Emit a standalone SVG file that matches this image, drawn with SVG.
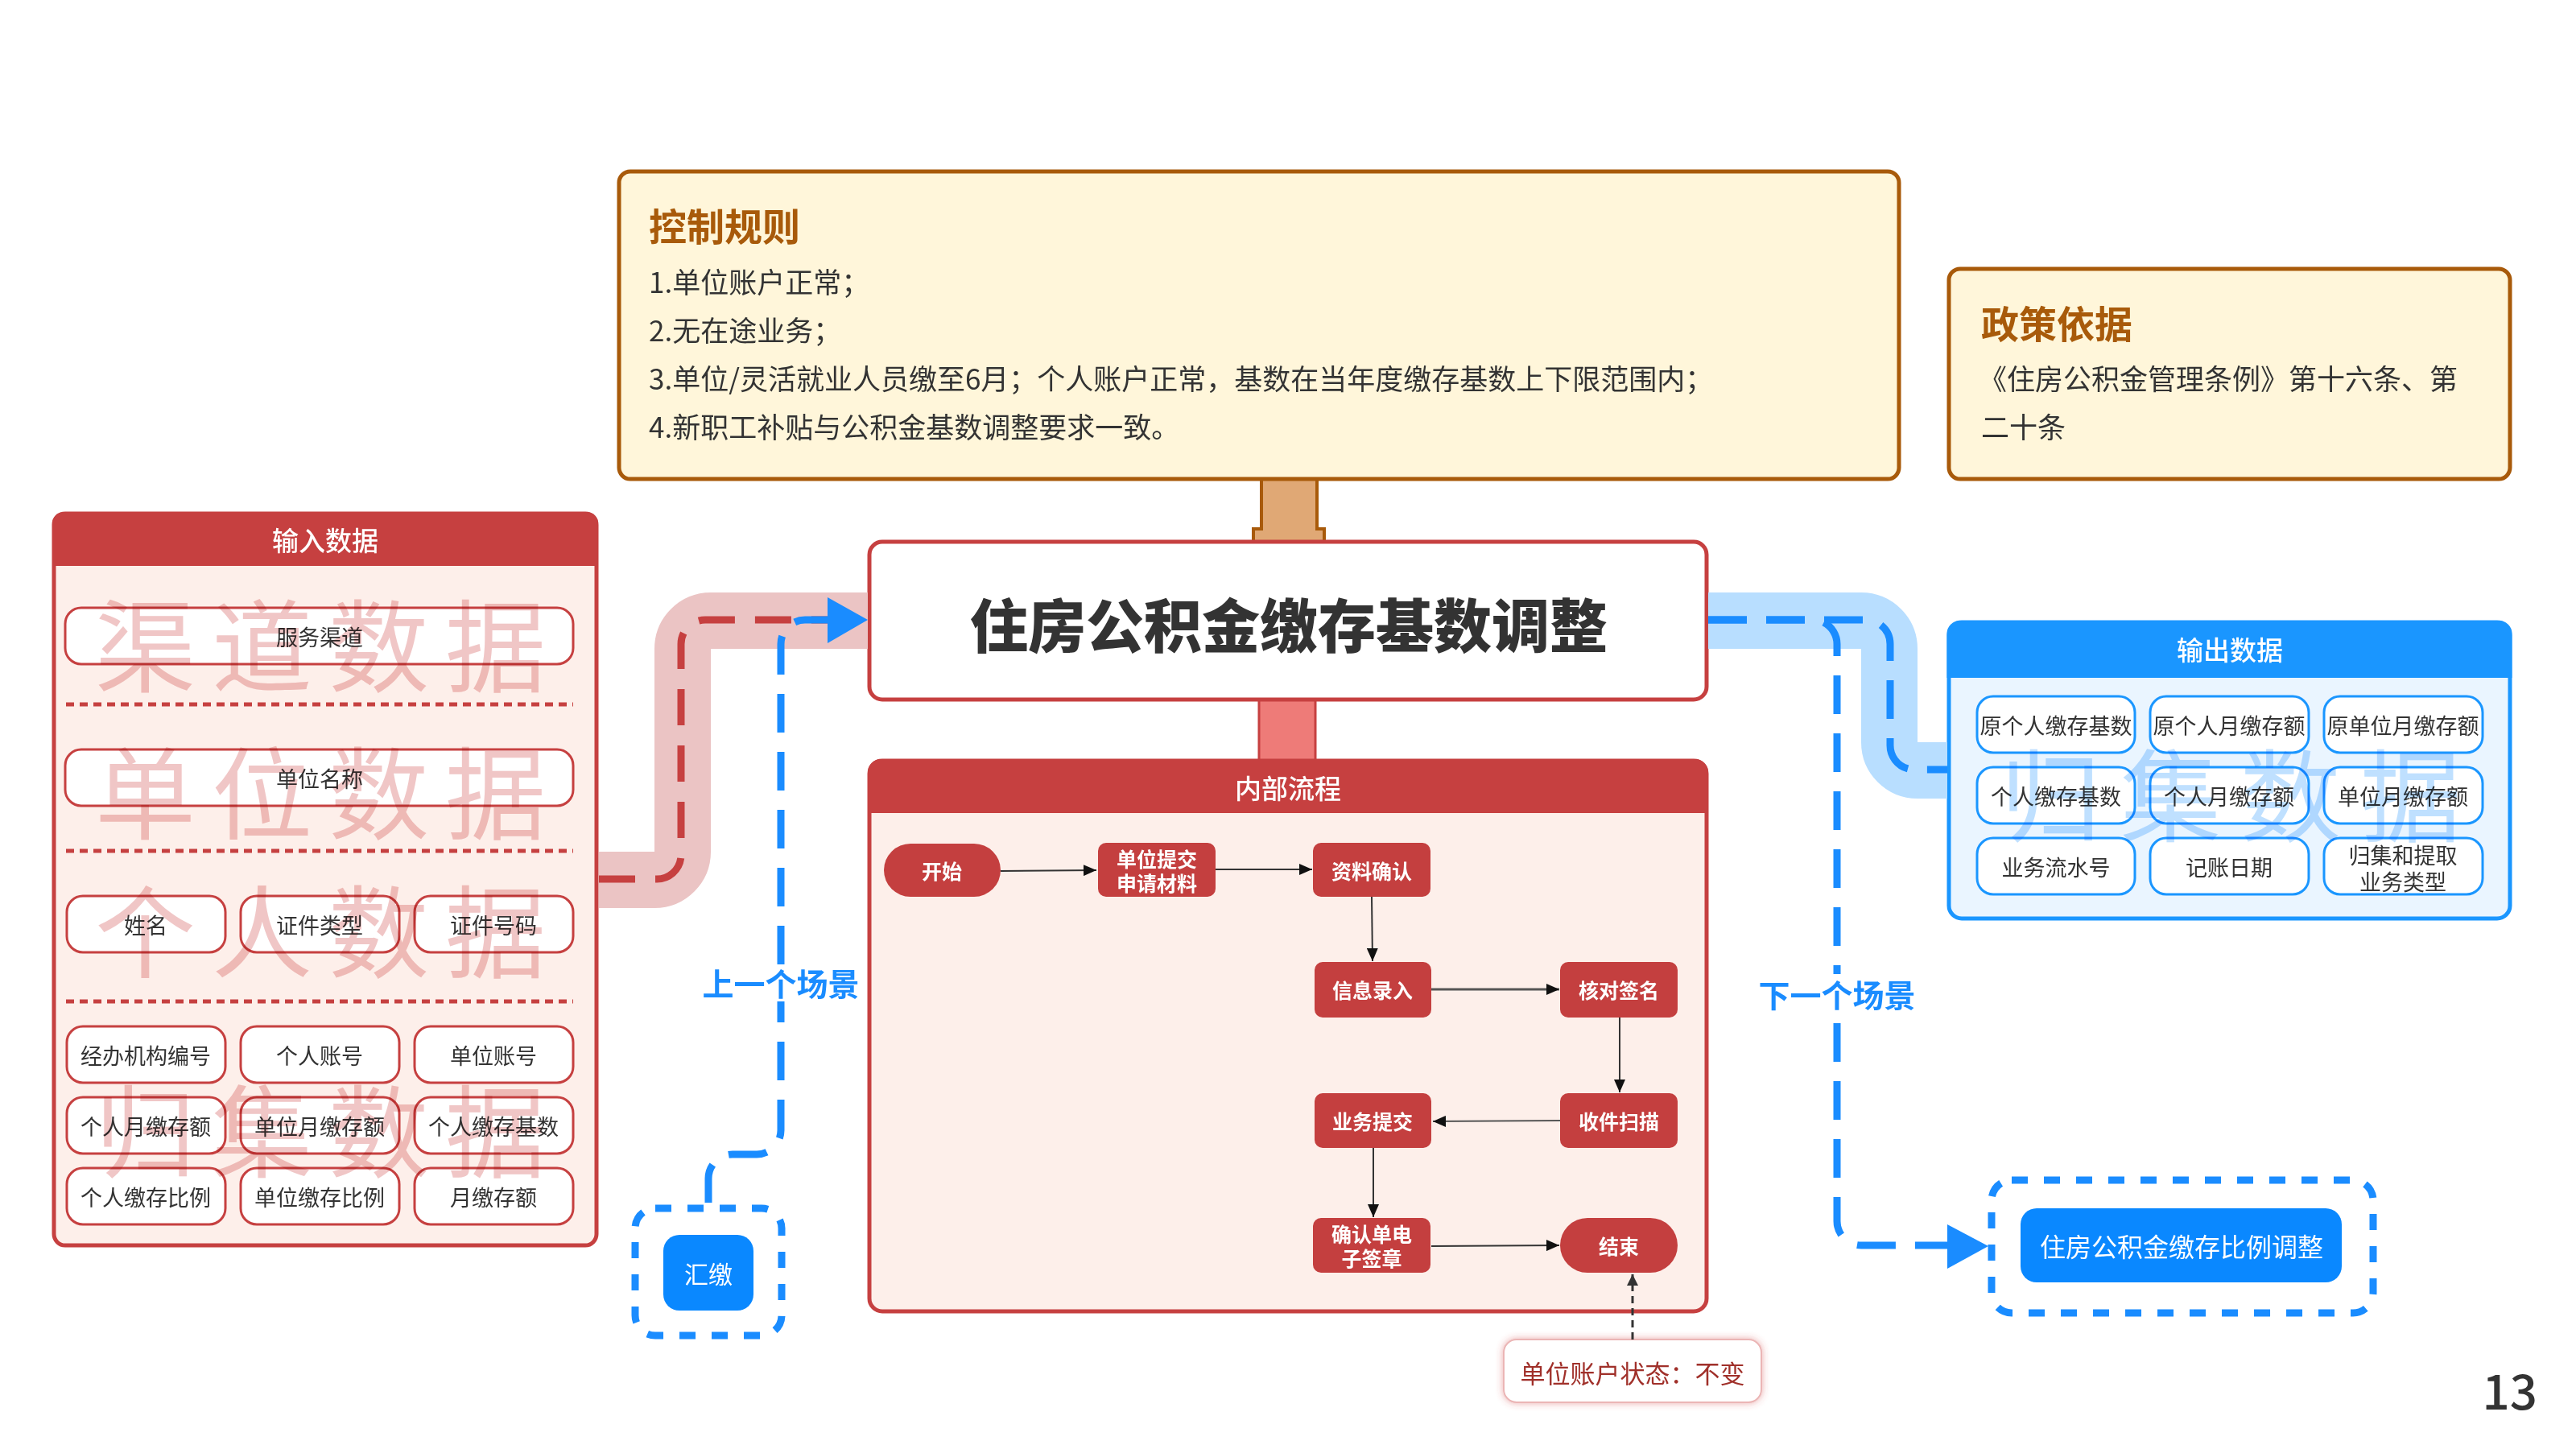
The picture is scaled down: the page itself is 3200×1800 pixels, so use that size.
<svg xmlns="http://www.w3.org/2000/svg" width="3200" height="1800" viewBox="0 0 3200 1800">
<defs>
<style>
text{font-family:"Noto Sans CJK SC","Noto Sans",sans-serif;}
.c{text-anchor:middle;dominant-baseline:central;}
.cell rect{fill:#fff;stroke:#C64040;stroke-width:3;}
.cell text{font-size:27px;fill:#333;text-anchor:middle;dominant-baseline:central;}
.ocell rect{fill:#fff;stroke:#1A96FF;stroke-width:3;}
.ocell text{font-size:27px;fill:#333;text-anchor:middle;dominant-baseline:central;}
.fn rect{fill:#C43F3F;}
.fn text{font-size:25px;font-weight:700;fill:#fff;text-anchor:middle;dominant-baseline:central;}
.sep{stroke:#C64040;stroke-width:5;stroke-dasharray:10 7;fill:none;}
.wmr{font-size:125px;fill:#F0C6C6;mix-blend-mode:multiply;letter-spacing:20px;dominant-baseline:central;}
.wmb{font-size:125px;fill:#BFE0FF;mix-blend-mode:multiply;letter-spacing:24px;dominant-baseline:central;}
.rule{font-size:35px;fill:#333;dominant-baseline:central;}
.ttl{font-size:47px;font-weight:700;fill:#A85A0A;dominant-baseline:central;}
.hdr{font-size:33px;font-weight:500;fill:#fff;text-anchor:middle;dominant-baseline:central;}
.flow{stroke:#333;stroke-width:2;fill:none;marker-end:url(#arr);}
.bdash{stroke:#1A8CFF;stroke-width:9;fill:none;stroke-dasharray:48 24;}
.scene{font-size:39px;font-weight:700;fill:#1A8CFF;text-anchor:middle;dominant-baseline:central;}
</style>
<marker id="arr" markerUnits="userSpaceOnUse" markerWidth="16" markerHeight="14" refX="16" refY="7" orient="auto">
<path d="M0,0 L16,7 L0,14 z" fill="#111"/>
</marker>
<marker id="arrd" markerUnits="userSpaceOnUse" markerWidth="14" markerHeight="14" refX="14" refY="7" orient="auto">
<path d="M0,0 L14,7 L0,14 z" fill="#333"/>
</marker>
<filter id="glow" x="-20%" y="-40%" width="140%" height="180%">
<feDropShadow dx="0" dy="0" stdDeviation="5" flood-color="#D04040" flood-opacity="0.45"/>
</filter>
</defs>
<rect width="3200" height="1800" fill="#fff"/>

<!-- stubs -->
<g id="stub-rules">
<path d="M1567,595 H1636 V657 H1645 V673 H1557 V657 H1567 Z" fill="#E0A875" stroke="#A85A0A" stroke-width="4"/>
</g>
<g id="stub-flow">
<rect x="1564" y="869" width="70" height="76" fill="#EE7B78" stroke="#C64040" stroke-width="3"/>
</g>

<!-- control rules -->
<g id="rules">
<rect x="769" y="213" width="1590" height="382" rx="14" fill="#FFF6DA" stroke="#A85A0A" stroke-width="5"/>
<text x="806" y="278" class="ttl">控制规则</text>
<text x="806" y="348" class="rule">1.单位账户正常；</text>
<text x="806" y="408" class="rule">2.无在途业务；</text>
<text x="806" y="468" class="rule">3.单位/灵活就业人员缴至6月；个人账户正常，基数在当年度缴存基数上下限范围内；</text>
<text x="806" y="528" class="rule">4.新职工补贴与公积金基数调整要求一致。</text>
</g>

<!-- policy -->
<g id="policy">
<rect x="2421" y="334" width="697" height="261" rx="14" fill="#FFF6DA" stroke="#A85A0A" stroke-width="5"/>
<text x="2461" y="399" class="ttl">政策依据</text>
<text x="2458" y="468" class="rule">《住房公积金管理条例》第十六条、第</text>
<text x="2461" y="528" class="rule">二十条</text>
</g>

<!-- main -->
<g id="main">
<rect x="1080" y="673" width="1040" height="196" rx="16" fill="#fff" stroke="#C64040" stroke-width="5"/>
<text x="1601" y="772" class="c" style="font-size:72px;font-weight:900;fill:#333">住房公积金缴存基数调整</text>
</g>

<!-- input panel -->
<g id="input">
<rect x="67" y="638" width="674" height="909" rx="14" fill="#FDEFEA" stroke="#C64040" stroke-width="5"/>
<path d="M65,703 V650 A14,14 0 0 1 79,636 H729 A14,14 0 0 1 743,650 V703 Z" fill="#C64040"/>
<text x="404" y="670" class="hdr">输入数据</text>
<line x1="82" y1="875" x2="712" y2="875" class="sep"/>
<line x1="82" y1="1057" x2="712" y2="1057" class="sep"/>
<line x1="82" y1="1244" x2="712" y2="1244" class="sep"/>
<g class="cell" id="in-channel"><rect x="81" y="755" width="631" height="70" rx="20"/><text x="397" y="790">服务渠道</text></g>
<g class="cell" id="in-unitname"><rect x="81" y="931" width="631" height="70" rx="20"/><text x="397" y="966">单位名称</text></g>
<g class="cell" id="in-name"><rect x="83" y="1113" width="197" height="70" rx="20"/><text x="181" y="1148">姓名</text></g>
<g class="cell" id="in-idtype"><rect x="299" y="1113" width="197" height="70" rx="20"/><text x="397" y="1148">证件类型</text></g>
<g class="cell" id="in-idno"><rect x="515" y="1113" width="197" height="70" rx="20"/><text x="613" y="1148">证件号码</text></g>
<g class="cell" id="in-org"><rect x="83" y="1275" width="197" height="70" rx="20"/><text x="181" y="1310">经办机构编号</text></g>
<g class="cell" id="in-pacct"><rect x="299" y="1275" width="197" height="70" rx="20"/><text x="397" y="1310">个人账号</text></g>
<g class="cell" id="in-uacct"><rect x="515" y="1275" width="197" height="70" rx="20"/><text x="613" y="1310">单位账号</text></g>
<g class="cell" id="in-pmon"><rect x="83" y="1363" width="197" height="70" rx="20"/><text x="181" y="1398">个人月缴存额</text></g>
<g class="cell" id="in-umon"><rect x="299" y="1363" width="197" height="70" rx="20"/><text x="397" y="1398">单位月缴存额</text></g>
<g class="cell" id="in-pbase"><rect x="515" y="1363" width="197" height="70" rx="20"/><text x="613" y="1398">个人缴存基数</text></g>
<g class="cell" id="in-pratio"><rect x="83" y="1451" width="197" height="70" rx="20"/><text x="181" y="1486">个人缴存比例</text></g>
<g class="cell" id="in-uratio"><rect x="299" y="1451" width="197" height="70" rx="20"/><text x="397" y="1486">单位缴存比例</text></g>
<g class="cell" id="in-mon"><rect x="515" y="1451" width="197" height="70" rx="20"/><text x="613" y="1486">月缴存额</text></g>
<text x="118" y="795" class="wmr">渠道数据</text>
<text x="118" y="978" class="wmr">单位数据</text>
<text x="118" y="1150" class="wmr">个人数据</text>
<text x="118" y="1398" class="wmr">归集数据</text>
</g>

<!-- internal flow panel -->
<g id="flow-panel">
<rect x="1080" y="945" width="1040" height="684" rx="16" fill="#FDEFEA" stroke="#C64040" stroke-width="5"/>
<path d="M1078,1010 V959 A16,16 0 0 1 1094,943 H2106 A16,16 0 0 1 2122,959 V1010 Z" fill="#C64040"/>
<text x="1600" y="978" class="hdr">内部流程</text>
</g>
<g class="fn" id="n-start"><rect x="1098" y="1048" width="145" height="66" rx="33"/><text x="1170" y="1081">开始</text></g>
<g class="fn" id="n-submit"><rect x="1364" y="1047" width="146" height="67" rx="10"/><text x="1437" y="1066">单位提交</text><text x="1437" y="1096">申请材料</text></g>
<g class="fn" id="n-confirm"><rect x="1631" y="1047" width="146" height="67" rx="10"/><text x="1704" y="1081">资料确认</text></g>
<g class="fn" id="n-entry"><rect x="1633" y="1195" width="145" height="69" rx="10"/><text x="1705" y="1229">信息录入</text></g>
<g class="fn" id="n-check"><rect x="1938" y="1195" width="146" height="69" rx="10"/><text x="2011" y="1229">核对签名</text></g>
<g class="fn" id="n-scan"><rect x="1938" y="1358" width="146" height="68" rx="10"/><text x="2011" y="1392">收件扫描</text></g>
<g class="fn" id="n-biz"><rect x="1633" y="1358" width="145" height="68" rx="10"/><text x="1705" y="1392">业务提交</text></g>
<g class="fn" id="n-sign"><rect x="1631" y="1513" width="146" height="68" rx="10"/><text x="1704" y="1532">确认单电</text><text x="1704" y="1562">子签章</text></g>
<g class="fn" id="n-end"><rect x="1938" y="1513" width="146" height="68" rx="34"/><text x="2011" y="1547">结束</text></g>

<!-- note -->
<g id="note">
<rect x="1868" y="1664" width="320" height="78" rx="16" fill="#fff" stroke="#EBB5B5" stroke-width="2" filter="url(#glow)"/>
<text x="2028" y="1704" class="c" style="font-size:31px;fill:#A0302A">单位账户状态：不变</text>
</g>

<!-- output panel -->
<g id="output">
<rect x="2421" y="773" width="697" height="368" rx="16" fill="#EAF5FF" stroke="#1A96FF" stroke-width="5"/>
<path d="M2418.5,842 V787 A16,16 0 0 1 2434.5,771 H3104.5 A16,16 0 0 1 3120.5,787 V842 Z" fill="#1A96FF"/>
<text x="2770" y="806" class="hdr">输出数据</text>
<g class="ocell" id="out-1"><rect x="2456" y="865" width="196" height="70" rx="20"/><text x="2554" y="900">原个人缴存基数</text></g>
<g class="ocell" id="out-2"><rect x="2671" y="865" width="197" height="70" rx="20"/><text x="2769" y="900">原个人月缴存额</text></g>
<g class="ocell" id="out-3"><rect x="2887" y="865" width="197" height="70" rx="20"/><text x="2985" y="900">原单位月缴存额</text></g>
<g class="ocell" id="out-4"><rect x="2456" y="953" width="196" height="70" rx="20"/><text x="2554" y="988">个人缴存基数</text></g>
<g class="ocell" id="out-5"><rect x="2671" y="953" width="197" height="70" rx="20"/><text x="2769" y="988">个人月缴存额</text></g>
<g class="ocell" id="out-6"><rect x="2887" y="953" width="197" height="70" rx="20"/><text x="2985" y="988">单位月缴存额</text></g>
<g class="ocell" id="out-7"><rect x="2456" y="1041" width="196" height="70" rx="20"/><text x="2554" y="1076">业务流水号</text></g>
<g class="ocell" id="out-8"><rect x="2671" y="1041" width="197" height="70" rx="20"/><text x="2769" y="1076">记账日期</text></g>
<g class="ocell" id="out-9"><rect x="2887" y="1041" width="197" height="70" rx="20"/><text x="2985" y="1061">归集和提取</text><text x="2985" y="1094">业务类型</text></g>
<text x="2485" y="981" class="wmb">归集数据</text>
</g>

<!-- connectors -->
<g id="connectors">
<path d="M744,1093 H813 A35,35 0 0 0 848,1058 V806 A35,35 0 0 1 883,771 H1078" fill="none" stroke="#EBC4C4" stroke-width="70"/>
<path d="M744,1092 H816 A30,30 0 0 0 846,1062 V800 A30,30 0 0 1 876,770 H1076" fill="none" stroke="#C64040" stroke-width="9" stroke-dasharray="45 25"/>
<path d="M2122,771 H2312 A35,35 0 0 1 2347,806 V922 A35,35 0 0 0 2382,957 H2419" fill="none" stroke="#B8DEFF" stroke-width="70"/>
<path d="M2122,770 H2318 A30,30 0 0 1 2348,800 V926 A30,30 0 0 0 2378,956 H2419" class="bdash"/>
<path d="M2122,770 H2252 A30,30 0 0 1 2282,800 V1517 A30,30 0 0 0 2312,1547 H2422" class="bdash"/>
<polygon points="2419,1521 2470,1548 2419,1576" fill="#1A8CFF"/>
<path d="M880,1494 V1464 A30,30 0 0 1 910,1434 H940 A30,30 0 0 0 970,1404 V800 A30,30 0 0 1 1000,770 H1032" class="bdash"/>
<polygon points="1028,742 1078,770 1028,799" fill="#1A8CFF"/>
<line x1="1243" y1="1082" x2="1362" y2="1081" class="flow"/>
<line x1="1510" y1="1080" x2="1630" y2="1080" class="flow"/>
<line x1="1704" y1="1114" x2="1705" y2="1194" class="flow"/>
<line x1="1778" y1="1229" x2="1937" y2="1229" class="flow" style="stroke:#555;stroke-width:3"/>
<line x1="2012" y1="1264" x2="2012" y2="1357" class="flow"/>
<line x1="1938" y1="1392" x2="1780" y2="1393" class="flow" style="stroke:#555"/>
<line x1="1706" y1="1426" x2="1706" y2="1512" class="flow"/>
<line x1="1778" y1="1548" x2="1937" y2="1547" class="flow"/>
<line x1="2028" y1="1664" x2="2028" y2="1583" stroke="#333" stroke-width="3" stroke-dasharray="9 6" marker-end="url(#arrd)"/>
</g>

<!-- scene labels -->
<g id="prev-label">
<rect x="872" y="1198" width="196" height="46" fill="#fff"/>
<text x="970" y="1220" class="scene">上一个场景</text>
</g>
<g id="next-label">
<rect x="2183" y="1210" width="198" height="48" fill="#fff"/>
<text x="2282" y="1234" class="scene">下一个场景</text>
</g>

<!-- previous scene -->
<g id="prev-scene">
<rect x="789" y="1501" width="182" height="158" rx="25" fill="none" stroke="#1A8CFF" stroke-width="9" stroke-dasharray="20 20"/>
<rect x="824" y="1534" width="112" height="94" rx="20" fill="#0A88FF"/>
<text x="880" y="1581" class="c" style="font-size:30px;fill:#fff">汇缴</text>
</g>

<!-- next scene -->
<g id="next-scene">
<rect x="2474" y="1466" width="474" height="165" rx="25" fill="none" stroke="#1A8CFF" stroke-width="9" stroke-dasharray="20 20"/>
<rect x="2510" y="1501" width="399" height="92" rx="20" fill="#0A88FF"/>
<text x="2710" y="1547" class="c" style="font-size:32px;fill:#fff">住房公积金缴存比例调整</text>
</g>

<text x="3152" y="1751" style="font-size:60px;font-weight:500;fill:#333;text-anchor:end">13</text>
</svg>
